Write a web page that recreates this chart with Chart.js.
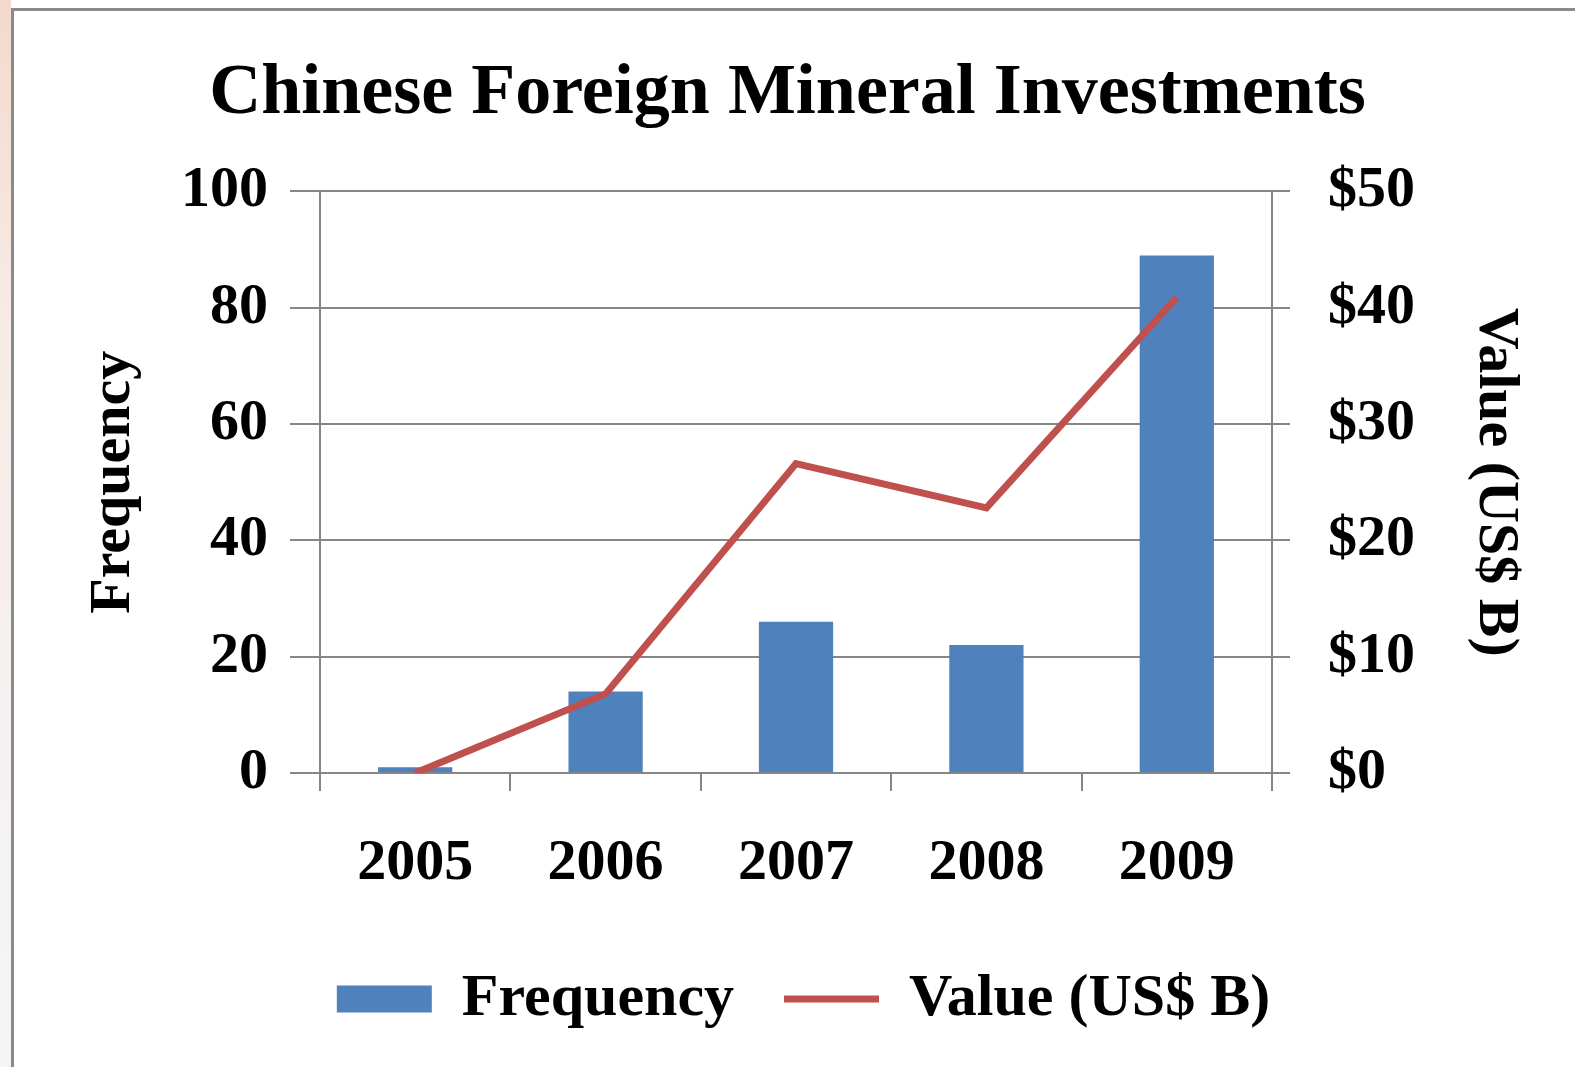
<!DOCTYPE html>
<html>
<head>
<meta charset="utf-8">
<script src="https://cdn.jsdelivr.net/npm/chart.js@4.4.1/dist/chart.umd.min.js"></script>
<style>
  body { margin: 0; background: #fff; width: 1575px; height: 1067px; overflow: hidden; position: relative; }
  #edge { position: absolute; left: 0; top: 0; width: 11px; height: 1067px;
          background: linear-gradient(180deg, #f3d9cc 0%, #f7ebe6 30%, #f4f5f8 100%); }
  #frame { position: absolute; left: 11px; top: 8px; width: 1580px; height: 1080px;
           border-left: 3px solid #8a8a8a; border-top: 3px solid #8a8a8a; background: #fff; }
  canvas { position: absolute; left: 0; top: 0; }
</style>
</head>
<body>
<div id="edge"></div>
<div id="frame"></div>
<canvas id="chart" width="1575" height="1067"></canvas>
<script>
// Data
const years = ["2005", "2006", "2007", "2008", "2009"];
const frequency = [1, 14, 26, 22, 89];
const valueBillions = [0, 6.8, 26.6, 22.8, 40.9];
const freqTicks = [0, 20, 40, 60, 80, 100];
const valueTicks = [0, 10, 20, 30, 40, 50];

const serif = "'Liberation Serif', 'Times New Roman', serif";
const gridGrey = "#868686";

// nudge the legend a little to the right, like the original
const legendShift = {
    id: "legendShift",
    afterLayout(chart) {
        chart.legend.left += 16;
        chart.legend.right += 16;
    },
};

const ctx = document.getElementById("chart").getContext("2d");

new Chart(ctx, {
    data: {
        labels: years,
        datasets: [
            {
                type: "bar",
                label: "Frequency",
                data: frequency,
                backgroundColor: "#4f81bd",
                yAxisID: "yFreq",
                barPercentage: 0.39,
                categoryPercentage: 1,
                order: 1,
                pointStyle: "rect",
            },
            {
                type: "line",
                label: "Value (US$ B)",
                data: valueBillions,
                borderColor: "#c0504d",
                backgroundColor: "#c0504d",
                borderWidth: 7,
                pointRadius: 0,
                tension: 0,
                yAxisID: "yValue",
                order: 0,
                pointStyle: "line",
            },
        ],
    },
    plugins: [legendShift],
    options: {
        responsive: false,
        animation: false,
        layout: { padding: { left: 0, right: 0, top: 0, bottom: 28 } },
        plugins: {
            title: {
                display: true,
                text: "Chinese Foreign Mineral Investments",
                color: "#000",
                font: { family: serif, size: 72, weight: "bold" },
                padding: { top: 51, bottom: 54 },
            },
            legend: {
                position: "bottom",
                labels: {
                    color: "#000",
                    font: { family: serif, size: 60, weight: "bold" },
                    usePointStyle: true,
                    boxHeight: 27,
                    pointStyleWidth: 95,
                    padding: 50,
                    sort: (a, b) => a.datasetIndex - b.datasetIndex,
                },
            },
            tooltip: { enabled: false },
        },
        scales: {
            x: {
                offset: true,
                grid: { offset: true, drawOnChartArea: false, drawTicks: true, tickLength: 18, color: gridGrey, lineWidth: 2 },
                border: { color: gridGrey, width: 2 },
                ticks: { color: "#000", font: { family: serif, size: 58, weight: "bold" }, padding: 38 },
                afterFit: (scale) => { scale.height = 146; },
            },
            yFreq: {
                position: "left",
                min: 0,
                max: 100,
                afterBuildTicks: (scale) => { scale.ticks = freqTicks.map((v) => ({ value: v })); },
                grid: { color: gridGrey, lineWidth: 2, tickLength: 30 },
                border: { color: gridGrey, width: 2 },
                ticks: { color: "#000", font: { family: serif, size: 58, weight: "bold" }, padding: 22 },
                title: {
                    display: true,
                    text: "Frequency",
                    color: "#000",
                    font: { family: serif, size: 58, weight: "bold" },
                    padding: { top: 79, bottom: 0 },
                },
                afterFit: (scale) => { scale.width = 320; },
            },
            yValue: {
                position: "right",
                min: 0,
                max: 50,
                afterBuildTicks: (scale) => { scale.ticks = valueTicks.map((v) => ({ value: v })); },
                grid: { drawOnChartArea: false, color: gridGrey, lineWidth: 2, tickLength: 18 },
                border: { color: gridGrey, width: 2 },
                ticks: {
                    color: "#000",
                    font: { family: serif, size: 58, weight: "bold" },
                    padding: 38,
                    callback: (v) => "$" + v,
                },
                title: {
                    display: true,
                    text: "Value (US$ B)",
                    color: "#000",
                    font: { family: serif, size: 58, weight: "bold" },
                    padding: { top: 45, bottom: 0 },
                },
                afterFit: (scale) => { scale.width = 303; },
            },
        },
    },
});
</script>
</body>
</html>
